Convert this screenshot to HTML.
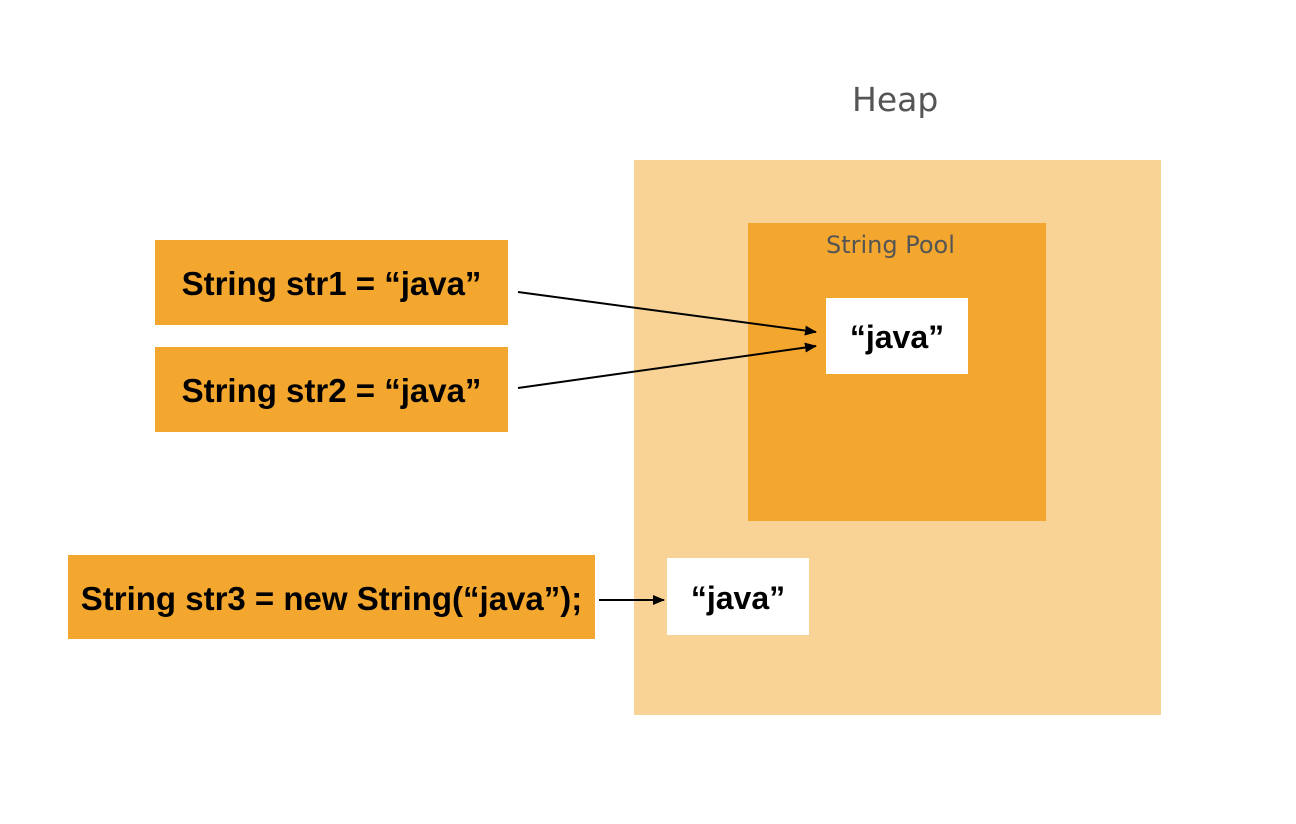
<!DOCTYPE html>
<html><head><meta charset="utf-8"><style>
body{margin:0;width:1296px;height:824px;background:#fff;position:relative;overflow:hidden;font-family:"Liberation Sans",sans-serif}
div.b{position:absolute;display:flex;align-items:center;justify-content:center;font-weight:bold;font-size:33px;color:#000;padding-top:3px;box-sizing:border-box}
.o{background:#f3a72e}
.w{background:#fff}
.t{position:absolute;color:#555;font-family:"Comic Sans MS","DejaVu Sans",sans-serif}
</style></head><body>
<div class="t" style="left:852px;top:80px;font-size:33px;">Heap</div>
<div style="position:absolute;left:634px;top:160px;width:527px;height:555px;background:#f8d395"></div>
<div style="position:absolute;left:748px;top:223px;width:298px;height:298px;background:#f3a72e"></div>
<div class="t" style="left:826px;top:231px;font-size:24px;">String Pool</div>
<div class="b w" style="left:826px;top:298px;width:142px;height:76px;font-size:32px">“java”</div>
<div class="b w" style="left:667px;top:558px;width:142px;height:77px;font-size:32px">“java”</div>
<div class="b o" style="left:155px;top:240px;width:353px;height:85px">String str1 = “java”</div>
<div class="b o" style="left:155px;top:347px;width:353px;height:85px">String str2 = “java”</div>
<div class="b o" style="left:68px;top:555px;width:527px;height:84px">String str3 = new String(“java”);</div>
<svg width="1296" height="824" style="position:absolute;left:0;top:0">
<defs><marker id="a" markerWidth="12" markerHeight="10" refX="11" refY="5" orient="auto" markerUnits="userSpaceOnUse"><path d="M0,0 L12,5 L0,10z" fill="#000"/></marker></defs>
<line x1="518" y1="292" x2="816" y2="332" stroke="#000" stroke-width="2" marker-end="url(#a)"/>
<line x1="518" y1="388" x2="816" y2="346" stroke="#000" stroke-width="2" marker-end="url(#a)"/>
<line x1="599" y1="600" x2="664" y2="600" stroke="#000" stroke-width="2" marker-end="url(#a)"/>
</svg>
</body></html>
